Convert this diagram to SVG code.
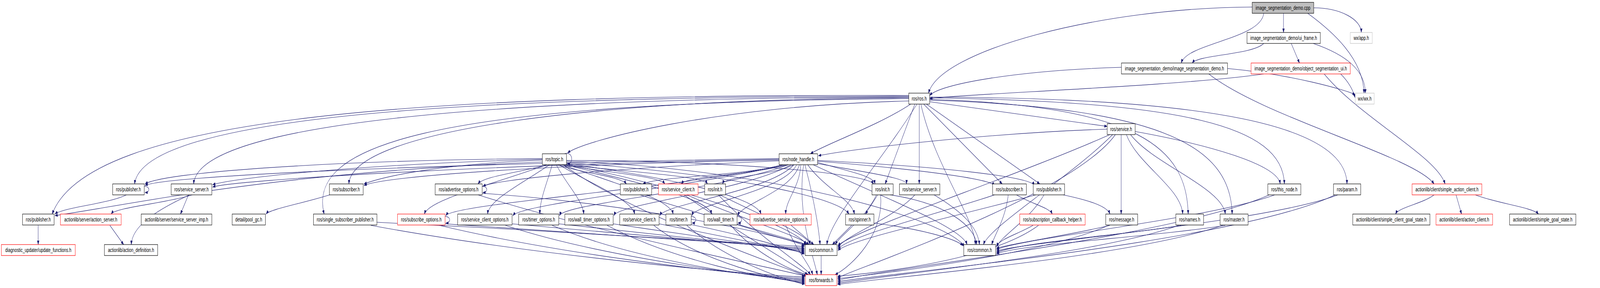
<svg xmlns="http://www.w3.org/2000/svg" width="5824" height="736" viewBox="0 0 5824 736" preserveAspectRatio="none" style="width:100vw;height:100vh">
<style>
.node rect{fill:#fff;stroke:#000;stroke-width:1.2}
.red rect{stroke:#ff0000}
.ext rect{stroke:#bfbfbf}
.root rect{fill:#bfbfbf}
text{font-family:"Liberation Sans",Arial,sans-serif;font-size:14px;text-anchor:middle;fill:#000}
#edges path{fill:none;stroke:#191970;stroke-width:1.1;marker-end:url(#a)}
</style>
<defs>
<marker id="a" markerWidth="11" markerHeight="8" refX="10" refY="4" orient="auto" markerUnits="userSpaceOnUse"><path d="M0,0 L11,4 L0,8 z" fill="#191970" stroke="none"/></marker>
</defs>
<rect width="5824" height="736" fill="#fff"/>
<g id="edges">
<path d="M4672,34 L4672,83"/>
<path d="M4782,20 C4880,20 4955,50 4955,83"/>
<path d="M4600,34 C4590,100 4320,110 4300,161"/>
<path d="M4558,18 C4000,20 3420,130 3380,238"/>
<path d="M4760,34 C4850,80 4962,150 4965,238"/>
<path d="M4600,111 C4560,140 4360,140 4340,161"/>
<path d="M4700,111 L4730,161"/>
<path d="M4780,111 C4900,140 4970,180 4970,238"/>
<path d="M4082,172 C3700,180 3420,215 3384,244"/>
<path d="M4468,175 C4700,190 4900,230 4933,242"/>
<path d="M4400,189 C4600,300 5150,400 5220,470"/>
<path d="M4600,189 C4300,220 3500,240 3384,252"/>
<path d="M4880,189 C4910,210 4925,230 4933,250"/>
<path d="M4820,189 C4950,300 5230,400 5260,470"/>
<path d="M3308,246 C1800,246 520,290 490,470"/>
<path d="M3308,244 C1500,240 320,300 190,547"/>
<path d="M3308,248 C2000,250 720,300 705,470"/>
<path d="M3308,250 C2200,252 1280,330 1270,470"/>
<path d="M3308,252 C1500,262 1120,380 1180,547"/>
<path d="M3308,258 C2600,270 2120,360 2066,391"/>
<path d="M3315,266 C3200,320 3000,370 2950,393"/>
<path d="M3330,266 L3222,470"/>
<path d="M3346,266 L3346,470"/>
<path d="M3362,266 L3648,470"/>
<path d="M3372,266 L3785,470"/>
<path d="M3384,260 L4030,323"/>
<path d="M3338,266 C3200,420 3020,560 3010,625"/>
<path d="M3352,266 C3400,420 3550,560 3550,625"/>
<path d="M3384,250 C4300,260 4670,320 4675,470"/>
<path d="M3384,248 C4400,250 4900,320 4903,470"/>
<path d="M3384,254 C4150,270 4320,380 4325,547"/>
<path d="M3384,256 C4250,275 4480,380 4485,547"/>
<path d="M2836,405 C1500,420 600,450 528,474"/>
<path d="M2836,407 C1800,420 850,460 774,478"/>
<path d="M2836,409 C2000,420 1400,450 1325,474"/>
<path d="M2836,411 C2200,430 1800,460 1758,476"/>
<path d="M2850,421 C2700,450 2400,450 2340,470"/>
<path d="M2870,421 C2700,450 2500,450 2480,470"/>
<path d="M2890,421 C2800,450 2640,450 2630,470"/>
<path d="M2850,421 C2500,480 1650,520 1623,551"/>
<path d="M2860,421 C2500,480 1900,520 1867,551"/>
<path d="M2870,421 C2600,490 2050,520 2037,551"/>
<path d="M2880,421 C2700,490 2250,520 2235,551"/>
<path d="M2890,421 C2800,490 2420,520 2402,551"/>
<path d="M2900,421 C2850,490 2530,520 2519,551"/>
<path d="M2910,421 C2880,490 2700,520 2686,551"/>
<path d="M2915,421 C2910,480 2860,510 2860,547"/>
<path d="M2940,421 C3000,480 3100,510 3110,547"/>
<path d="M2976,415 C3100,440 3180,450 3185,470"/>
<path d="M2976,418 C3150,440 3300,455 3300,470"/>
<path d="M2976,412 C3300,430 3600,455 3620,474"/>
<path d="M2976,410 C3400,425 3750,450 3765,474"/>
<path d="M2930,421 C2960,500 2980,580 2985,625"/>
<path d="M2925,421 C2900,550 2960,650 2975,702"/>
<path d="M2960,421 C3200,500 3500,580 3520,625"/>
<path d="M2055,393 C2085,385 2090,420 2065,418"/>
<path d="M1974,405 C1200,410 600,440 528,470"/>
<path d="M1974,407 C1300,420 850,455 774,472"/>
<path d="M1974,409 C1600,420 1400,450 1325,470"/>
<path d="M1974,414 C1000,440 500,520 200,551"/>
<path d="M1990,421 C1900,440 1760,450 1740,470"/>
<path d="M2030,421 C2100,440 2260,450 2280,470"/>
<path d="M2045,421 C2200,440 2400,450 2420,470"/>
<path d="M2055,421 C2300,440 2560,450 2575,470"/>
<path d="M1990,421 C1800,470 1560,510 1545,547"/>
<path d="M2000,421 C1900,470 1780,510 1775,547"/>
<path d="M2010,421 C1990,470 1965,510 1965,547"/>
<path d="M2025,421 C2060,470 2120,510 2125,547"/>
<path d="M2035,421 C2150,470 2300,510 2310,547"/>
<path d="M2045,421 C2250,470 2440,510 2450,547"/>
<path d="M2055,421 C2350,470 2580,510 2590,547"/>
<path d="M2062,418 C2400,450 2750,500 2770,547"/>
<path d="M2062,416 C2600,440 3050,500 3090,547"/>
<path d="M2062,410 C2600,410 3150,440 3180,470"/>
<path d="M2062,420 C2500,480 2900,580 2935,625"/>
<path d="M2050,421 C2300,550 2850,680 2935,706"/>
<path d="M2062,412 C2800,430 3450,560 3510,630"/>
<path d="M4030,330 C3600,340 3100,380 2979,398"/>
<path d="M4050,344 C3900,450 3600,580 3580,625"/>
<path d="M4040,344 C3700,450 3100,590 3050,628"/>
<path d="M4060,344 C3900,500 3100,690 3049,710"/>
<path d="M4081,344 L4081,547"/>
<path d="M4100,344 C4140,420 4300,480 4305,547"/>
<path d="M4115,344 C4200,420 4450,480 4460,547"/>
<path d="M4132,336 C4400,370 4650,420 4660,470"/>
<path d="M525,476 C547,476 547,492 528,492"/>
<path d="M460,498 C400,520 230,530 200,547"/>
<path d="M700,498 C600,520 420,530 405,547"/>
<path d="M686,498 L657,547"/>
<path d="M690,498 C560,540 480,580 478,625"/>
<path d="M1200,498 C1100,520 980,535 969,547"/>
<path d="M1755,476 C1777,476 1777,492 1758,492"/>
<path d="M1755,494 C2300,520 2850,600 2928,628"/>
<path d="M1740,498 C2200,600 2850,690 2929,705"/>
<path d="M2330,498 C2600,560 2880,610 2935,625"/>
<path d="M2500,498 C2700,560 2900,600 2945,625"/>
<path d="M2490,498 C2700,600 2900,680 2940,702"/>
<path d="M2620,498 C2800,560 2940,600 2950,625"/>
<path d="M2615,498 C2750,600 2930,680 2950,702"/>
<path d="M3195,498 L3150,547"/>
<path d="M3190,498 C3150,560 3060,600 3040,625"/>
<path d="M3205,498 C3220,600 3100,680 3040,702"/>
<path d="M3240,498 C3450,520 3550,580 3555,625"/>
<path d="M3330,498 C3250,560 3080,600 3050,632"/>
<path d="M3400,498 C3500,540 3560,580 3565,625"/>
<path d="M3700,498 C3750,520 3820,530 3830,547"/>
<path d="M3670,498 C3660,560 3620,600 3610,625"/>
<path d="M3620,498 C3400,550 3100,600 3050,636"/>
<path d="M3800,498 C3750,560 3650,600 3627,630"/>
<path d="M3770,498 C3500,550 3100,610 3050,640"/>
<path d="M3870,498 C3950,510 4030,525 4040,547"/>
<path d="M4640,498 C4400,560 3700,610 3627,638"/>
<path d="M4620,498 C4300,600 3200,690 3049,716"/>
<path d="M4870,498 C4600,570 3700,620 3627,642"/>
<path d="M4860,498 C4500,620 3200,700 3049,720"/>
<path d="M5220,498 C5180,520 5090,530 5080,547"/>
<path d="M5300,498 L5320,547"/>
<path d="M5370,498 C5450,520 5580,530 5600,547"/>
<path d="M139,576 L139,625"/>
<path d="M400,576 L450,625"/>
<path d="M1372,568 C2000,590 2800,620 2928,630"/>
<path d="M1350,576 C2000,660 2800,705 2929,708"/>
<path d="M1620,553 C1642,553 1642,570 1623,570"/>
<path d="M1620,572 C2200,600 2800,625 2928,634"/>
<path d="M1600,576 C2100,660 2800,710 2929,711"/>
<path d="M1864,572 C2300,600 2800,628 2928,637"/>
<path d="M1840,576 C2200,660 2800,712 2929,714"/>
<path d="M2034,572 C2400,600 2800,630 2928,640"/>
<path d="M2010,576 C2300,665 2800,714 2929,717"/>
<path d="M2232,572 C2500,600 2800,632 2928,643"/>
<path d="M2210,576 C2450,665 2800,716 2929,720"/>
<path d="M2399,572 C2600,600 2850,634 2928,646"/>
<path d="M2380,576 C2550,670 2850,718 2929,723"/>
<path d="M2516,553 C2538,553 2538,570 2519,570"/>
<path d="M2516,574 C2700,600 2880,636 2928,649"/>
<path d="M2500,576 C2650,670 2880,720 2929,726"/>
<path d="M2683,553 C2705,553 2705,570 2686,570"/>
<path d="M2683,574 C2800,600 2900,620 2940,625"/>
<path d="M2660,576 C2750,650 2900,700 2945,702"/>
<path d="M2880,576 L2962,625"/>
<path d="M2860,576 C2900,640 2950,680 2958,702"/>
<path d="M3100,576 L3030,625"/>
<path d="M3181,570 C3350,585 3480,610 3505,628"/>
<path d="M3760,576 C3700,600 3640,610 3627,630"/>
<path d="M3780,576 C3600,670 3150,700 3049,706"/>
<path d="M4040,576 C3900,600 3700,620 3627,634"/>
<path d="M4035,576 C3800,650 3200,700 3049,712"/>
<path d="M4300,576 C4100,600 3700,620 3627,646"/>
<path d="M4290,576 C4000,650 3200,705 3049,724"/>
<path d="M4460,576 C4200,605 3700,625 3627,649"/>
<path d="M4450,576 C4100,660 3200,710 3049,727"/>
<path d="M2989,653 L2989,702"/>
</g>
<g id="n_root" class="node root"><rect x="4558" y="6" width="224" height="28"/><text x="4670" y="25">image_segmentation_demo.cpp</text></g>
<g id="n_uiframe" class="node"><rect x="4539" y="83" width="267" height="28"/><text x="4672.5" y="102">image_segmentation_demo/ui_frame.h</text></g>
<g id="n_wxapp" class="node ext"><rect x="4915" y="83" width="80" height="28"/><text x="4955" y="102">wx/app.h</text></g>
<g id="n_isd" class="node"><rect x="4082" y="161" width="386" height="28"/><text x="4275" y="180">image_segmentation_demo/image_segmentation_demo.h</text></g>
<g id="n_osui" class="node red"><rect x="4554" y="161" width="361" height="28"/><text x="4734.5" y="180">image_segmentation_demo/object_segmentation_ui.h</text></g>
<g id="n_ros" class="node"><rect x="3308" y="238" width="76" height="28"/><text x="3346" y="257">ros/ros.h</text></g>
<g id="n_wx" class="node ext"><rect x="4933" y="238" width="69" height="28"/><text x="4967.5" y="257">wx/wx.h</text></g>
<g id="n_service" class="node"><rect x="4030" y="316" width="102" height="28"/><text x="4081" y="335">ros/service.h</text></g>
<g id="n_topic" class="node"><rect x="1974" y="393" width="88" height="28"/><text x="2018" y="412">ros/topic.h</text></g>
<g id="n_nh" class="node"><rect x="2836" y="393" width="140" height="28"/><text x="2906" y="412">ros/node_handle.h</text></g>
<g id="n_pubA" class="node"><rect x="410" y="470" width="115" height="28"/><text x="467.5" y="489">ros/publisher.h</text></g>
<g id="n_ssA" class="node"><rect x="623" y="470" width="148" height="28"/><text x="697" y="489">ros/service_server.h</text></g>
<g id="n_subA" class="node"><rect x="1199" y="470" width="123" height="28"/><text x="1260.5" y="489">ros/subscriber.h</text></g>
<g id="n_advopt" class="node"><rect x="1584" y="470" width="171" height="28"/><text x="1669.5" y="489">ros/advertise_options.h</text></g>
<g id="n_pubC" class="node"><rect x="2258" y="470" width="114" height="28"/><text x="2315" y="489">ros/publisher.h</text></g>
<g id="n_scR" class="node red"><rect x="2397" y="470" width="144" height="28"/><text x="2469" y="489">ros/service_client.h</text></g>
<g id="n_initA" class="node"><rect x="2565" y="470" width="76" height="28"/><text x="2603" y="489">ros/init.h</text></g>
<g id="n_initB" class="node"><rect x="3174" y="470" width="77" height="28"/><text x="3212.5" y="489">ros/init.h</text></g>
<g id="n_ssB" class="node"><rect x="3274" y="470" width="147" height="28"/><text x="3347.5" y="489">ros/service_server.h</text></g>
<g id="n_subB" class="node"><rect x="3613" y="470" width="123" height="28"/><text x="3674.5" y="489">ros/subscriber.h</text></g>
<g id="n_pubD" class="node"><rect x="3761" y="470" width="114" height="28"/><text x="3818" y="489">ros/publisher.h</text></g>
<g id="n_thisnode" class="node"><rect x="4615" y="470" width="120" height="28"/><text x="4675" y="489">ros/this_node.h</text></g>
<g id="n_param" class="node"><rect x="4854" y="470" width="99" height="28"/><text x="4903.5" y="489">ros/param.h</text></g>
<g id="n_sac" class="node red"><rect x="5140" y="470" width="254" height="28"/><text x="5267" y="489">actionlib/client/simple_action_client.h</text></g>
<g id="n_pubB" class="node"><rect x="82" y="547" width="115" height="28"/><text x="139.5" y="566">ros/publisher.h</text></g>
<g id="n_actsrv" class="node red"><rect x="220" y="547" width="221" height="28"/><text x="330.5" y="566">actionlib/server/action_server.h</text></g>
<g id="n_ssimp" class="node"><rect x="514" y="547" width="257" height="28"/><text x="642.5" y="566">actionlib/server/service_server_imp.h</text></g>
<g id="n_poolgc" class="node"><rect x="845" y="547" width="121" height="28"/><text x="905.5" y="566">detail/pool_gc.h</text></g>
<g id="n_ssp" class="node"><rect x="1141" y="547" width="231" height="28"/><text x="1256.5" y="566">ros/single_subscriber_publisher.h</text></g>
<g id="n_subopt" class="node red"><rect x="1447" y="547" width="173" height="28"/><text x="1533.5" y="566">ros/subscribe_options.h</text></g>
<g id="n_scopt" class="node"><rect x="1666" y="547" width="198" height="28"/><text x="1765" y="566">ros/service_client_options.h</text></g>
<g id="n_timeropt" class="node"><rect x="1888" y="547" width="146" height="28"/><text x="1961" y="566">ros/timer_options.h</text></g>
<g id="n_wtopt" class="node"><rect x="2056" y="547" width="176" height="28"/><text x="2144" y="566">ros/wall_timer_options.h</text></g>
<g id="n_sc" class="node"><rect x="2256" y="547" width="143" height="28"/><text x="2327.5" y="566">ros/service_client.h</text></g>
<g id="n_timer" class="node"><rect x="2424" y="547" width="92" height="28"/><text x="2470" y="566">ros/timer.h</text></g>
<g id="n_wt" class="node"><rect x="2563" y="547" width="120" height="28"/><text x="2623" y="566">ros/wall_timer.h</text></g>
<g id="n_advsrvopt" class="node red"><rect x="2730" y="547" width="223" height="28"/><text x="2841.5" y="566">ros/advertise_service_options.h</text></g>
<g id="n_spinner" class="node"><rect x="3078" y="547" width="103" height="28"/><text x="3129.5" y="566">ros/spinner.h</text></g>
<g id="n_sch" class="node red"><rect x="3712" y="547" width="238" height="28"/><text x="3831" y="566">ros/subscription_callback_helper.h</text></g>
<g id="n_message" class="node"><rect x="4025" y="547" width="116" height="28"/><text x="4083" y="566">ros/message.h</text></g>
<g id="n_names" class="node"><rect x="4280" y="547" width="101" height="28"/><text x="4330.5" y="566">ros/names.h</text></g>
<g id="n_master" class="node"><rect x="4441" y="547" width="102" height="28"/><text x="4492" y="566">ros/master.h</text></g>
<g id="n_scgs" class="node"><rect x="4924" y="547" width="281" height="28"/><text x="5064.5" y="566">actionlib/client/simple_client_goal_state.h</text></g>
<g id="n_ac" class="node red"><rect x="5227" y="547" width="206" height="28"/><text x="5330" y="566">actionlib/client/action_client.h</text></g>
<g id="n_sgs" class="node"><rect x="5495" y="547" width="241" height="28"/><text x="5615.5" y="566">actionlib/client/simple_goal_state.h</text></g>
<g id="n_updfn" class="node red"><rect x="5" y="625" width="269" height="28"/><text x="139.5" y="644">diagnostic_updater/update_functions.h</text></g>
<g id="n_actdef" class="node"><rect x="380" y="625" width="194" height="28"/><text x="477" y="644">actionlib/action_definition.h</text></g>
<g id="n_commonA" class="node"><rect x="2931" y="625" width="116" height="28"/><text x="2989" y="644">ros/common.h</text></g>
<g id="n_commonB" class="node"><rect x="3508" y="625" width="116" height="28"/><text x="3566" y="644">ros/common.h</text></g>
<g id="n_forwards" class="node red"><rect x="2932" y="702" width="114" height="28"/><text x="2989" y="721">ros/forwards.h</text></g>
</svg>
